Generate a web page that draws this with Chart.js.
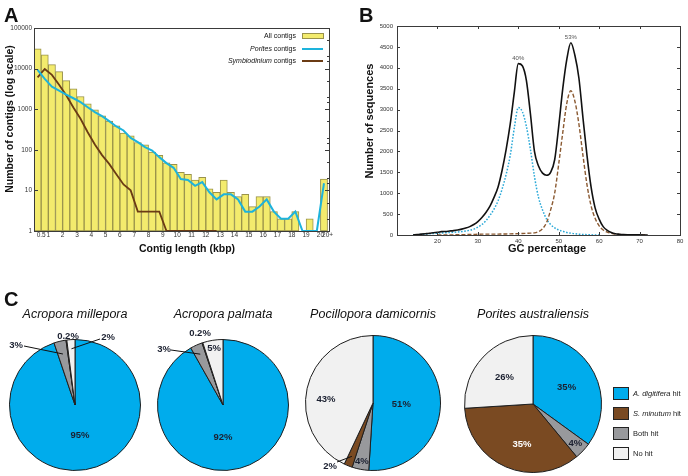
<!DOCTYPE html>
<html>
<head>
<meta charset="utf-8">
<title>Contig length, GC content and BLAST hits</title>
<script src="https://cdn.jsdelivr.net/npm/chart.js@4.4.1/dist/chart.umd.min.js"></script>
<style>
  html, body { margin: 0; padding: 0; background: #fff; }
  #fig { position: relative; width: 688px; height: 476px; overflow: hidden; background: #fff;
         font-family: "Liberation Sans", Arial, Helvetica, sans-serif; }
  #fig canvas { position: absolute; }
  .panel-letter { position: absolute; font-size: 20px; line-height: 20px; font-weight: bold; color: #111; }
</style>
</head>
<body>
<div id="fig">
  <canvas id="lengthChart" style="left:0;top:0;width:345px;height:270px" width="345" height="270"></canvas>
  <canvas id="gcChart" style="left:345px;top:0;width:343px;height:270px" width="343" height="270"></canvas>
  <canvas id="pie0" style="left:0;top:295px;width:150px;height:181px" width="150" height="181"></canvas>
  <canvas id="pie1" style="left:150px;top:295px;width:148px;height:181px" width="148" height="181"></canvas>
  <canvas id="pie2" style="left:298px;top:295px;width:152px;height:181px" width="152" height="181"></canvas>
  <canvas id="pie3" style="left:450px;top:295px;width:238px;height:181px" width="238" height="181"></canvas>
  <div class="panel-letter" style="left:4px;top:5px">A</div>
  <div class="panel-letter" style="left:359px;top:5px">B</div>
  <div class="panel-letter" style="left:4px;top:289px">C</div>
</div>
<script>
// Panel A: contig length histogram (0.5 kbp bins, last bin is 20+)
const binCenters = [0.25, 0.75, 1.25, 1.75, 2.25, 2.75, 3.25, 3.75, 4.25, 4.75,
    5.25, 5.75, 6.25, 6.75, 7.25, 7.75, 8.25, 8.75, 9.25, 9.75,
    10.25, 10.75, 11.25, 11.75, 12.25, 12.75, 13.25, 13.75, 14.25, 14.75,
    15.25, 15.75, 16.25, 16.75, 17.25, 17.75, 18.25, 18.75, 19.25, 19.75, 20.25];
const allContigs = [30500, 21700, 12500, 8400, 5070, 3160, 2050, 1350, 960, 690,
    510, 390, 257, 221, 151, 133, 88, 73, 48, 44,
    28, 25, 18, 21, 11, 9, 18, 9, 7, 8,
    4, 7, 7, 3, 2, 2, 3, 0, 2, 0, 19];
const poritesContigs = [9300, 5570, 3600, 2880, 2300, 1860, 1490, 1120, 845, 673,
    507, 375, 299, 197, 155, 116, 96, 66, 47, 36,
    19, 18, 13, 16, 9, 6, 8, 8, 6, 3,
    3, 4, 6, 3, 2, 2, 3, 0, 0, 0, 15];
const symbiodiniumContigs = [6100, 9800, 7000, 4000, 2200, 1100, 580, 270, 135, 74,
    45, 25, 14, 10, 3, 3, 3, 3, 0, 0,
    0, 0, 0, 0, 0, 0];
const lengthTickValues = [0.5, 1, 2, 3, 4, 5, 6, 7, 8, 9, 10, 11, 12, 13, 14, 15, 16, 17, 18, 19, 20, 20.5];
const lengthTickLabels = ['0.5', '1', '2', '3', '4', '5', '6', '7', '8', '9', '10',
    '11', '12', '13', '14', '15', '16', '17', '18', '19', '20', '20+'];
const countTickLabels = ['1', '10', '100', '1000', '10000', '100000'];

// Panel B: GC content distribution
const gcPercent = [14, 15, 16, 17, 18, 19, 20, 21, 22, 23, 24, 25, 26, 27, 28, 29,
    30, 31, 32, 33, 34, 35, 36, 37, 38, 39, 40, 41, 42, 43, 44, 45, 46, 47, 48, 49,
    50, 51, 52, 53, 54, 55, 56, 57, 58, 59, 60, 61, 62, 63, 64, 65, 66, 67, 68, 69,
    70, 71, 72];
const allContigsGC = [5, 10, 20, 30, 40, 55, 65, 80, 85, 95, 105, 120, 140, 165, 200, 250,
    320, 420, 540, 690, 900, 1150, 1550, 2050, 2650, 3400, 4100, 4050, 3700, 2900, 2000, 1650, 1480, 1430, 1500, 1800,
    2600, 3500, 4200, 4600, 4300, 3750, 2800, 1900, 1150, 650, 380, 200, 110, 60, 30, 18, 10, 6, 4, 3,
    2, 1, 0];
const symbiodiniumGC = [null, null, null, null, null, null, 2, 3, 3, 4, 4, 5, 8, 10, 12, 15,
    18, 20, 20, 22, 22, 22, 24, 25, 28, 30, 32, 35, 40, 45, 50, 80, 150, 300, 600, 1000,
    1700, 2450, 3150, 3450, 3200, 2650, 1900, 1200, 700, 400, 220, 120, 70, 40, 20, 12, 7, 4, 2, 1,
    0, 0, 0];
const poritesGC = [3, 6, 12, 20, 28, 36, 42, 50, 55, 60, 65, 72, 82, 95, 115, 140,
    190, 250, 340, 470, 620, 820, 1100, 1450, 1900, 2550, 3050, 2950, 2600, 2050, 1400, 900, 600, 380, 250, 170,
    120, 90, 60, 45, 30, 20, 12, 8, 4, 2, 0];
const gcTickValues = [20, 30, 40, 50, 60, 70, 80];
const gcTickLabels = ['20', '30', '40', '50', '60', '70', '80'];
const gcPeaks = [40, 53];

// Panel C: BLAST hits, values in legend order
const hitCategories = ['A. digitifera hit', 'S. minutum hit', 'Both hit', 'No hit'];
const pieTitles = ['Acropora millepora', 'Acropora palmata', 'Pocillopora damicornis', 'Porites australiensis'];
const acroporaMillepora = [95, 0.2, 3, 2];
const acroporaPalmata = [92, 0.2, 3, 5];
const pocilloporaDamicornis = [51, 2, 4, 43];
const poritesAustraliensis = [35, 35, 4, 26];

// ---- styles ----
const FONT = "'Liberation Sans', Arial, Helvetica, sans-serif";
Chart.defaults.font.family = FONT;
Chart.defaults.color = '#333';
const italicTerms = ['Porites', 'Symbiodinium', 'A. digitifera', 'S. minutum'];
const hitColors = ['#00acec', '#7a4a22', '#98999c', '#f1f1f1'];
const sliceOrder = [0, 2, 1, 3]; // clockwise from 12 o'clock

function splitItalic(label) {
    for (const term of italicTerms) {
        if (label.startsWith(term)) return [[term, true], [label.slice(term.length), false]];
    }
    return [[label, false]];
}

function drawRichText(ctx, label, x, y, size, align) {
    const parts = splitItalic(label);
    const fontOf = it => (it ? 'italic ' : '') + size + 'px ' + FONT;
    let total = 0;
    parts.forEach(([t, it]) => { ctx.font = fontOf(it); total += ctx.measureText(t).width; });
    let cx = align === 'right' ? x - total : x;
    ctx.textAlign = 'left';
    ctx.textBaseline = 'middle';
    parts.forEach(([t, it]) => {
        ctx.font = fontOf(it);
        ctx.fillText(t, cx, y);
        cx += ctx.measureText(t).width;
    });
}

// box around the plot area with inward tick marks
const frameTicks = {
    id: 'frameTicks',
    afterDatasetsDraw(chart, args, o) {
        const { ctx, chartArea: a, scales } = chart;
        const line = (x1, y1, x2, y2) => { ctx.beginPath(); ctx.moveTo(x1, y1); ctx.lineTo(x2, y2); ctx.stroke(); };
        ctx.save();
        ctx.strokeStyle = '#3a3a3a';
        ctx.lineWidth = 1;
        ctx.strokeRect(Math.round(a.left) + 0.5, Math.round(a.top) + 0.5, Math.round(a.width), Math.round(a.height));
        if (o.xTicks) {
            scales.x.ticks.forEach(t => {
                const px = Math.round(scales.x.getPixelForValue(t.value)) + 0.5;
                if (px < a.left + 2 || px > a.right - 2) return;
                line(px, a.top, px, a.top + o.len);
                line(px, a.bottom, px, a.bottom - o.len);
            });
        }
        scales.y.ticks.forEach(t => {
            const py = Math.round(scales.y.getPixelForValue(t.value)) + 0.5;
            if (py < a.top + 2 || py > a.bottom - 2) return;
            const l10 = Math.log10(t.value);
            const major = !o.log || Math.abs(l10 - Math.round(l10)) < 1e-9;
            if (major) {
                line(a.left, py, a.left + o.len, py);
                line(a.right, py, a.right - o.len, py);
            } else {
                // minor log ticks only on the right edge, at 2 and 5 of each decade
                const sig = Math.round(t.value / Math.pow(10, Math.floor(l10 + 1e-9)));
                if (sig === 2 || sig === 5) line(a.right, py, a.right - o.minorLen, py);
            }
        });
        ctx.restore();
    }
};

const axisTitles = {
    id: 'axisTitles',
    afterDraw(chart, args, o) {
        const ctx = chart.ctx;
        ctx.save();
        ctx.font = 'bold ' + o.size + 'px ' + FONT;
        ctx.fillStyle = '#111';
        ctx.textAlign = 'center';
        ctx.textBaseline = 'middle';
        ctx.fillText(o.x.text, o.x.at[0], o.x.at[1]);
        ctx.translate(o.y.at[0], o.y.at[1]);
        ctx.rotate(-Math.PI / 2);
        ctx.fillText(o.y.text, 0, 0);
        ctx.restore();
    }
};

// legend built from the datasets' own styles
const seriesLegend = {
    id: 'seriesLegend',
    afterDraw(chart, args, o) {
        const ctx = chart.ctx;
        chart.data.datasets.forEach((ds, i) => {
            const y = o.rowY[i];
            ctx.save();
            ctx.fillStyle = '#111';
            drawRichText(ctx, ds.label, o.textX, y, o.size, o.align);
            if (ds.type === 'bar') {
                ctx.fillStyle = ds.backgroundColor;
                ctx.strokeStyle = ds.borderColor;
                ctx.lineWidth = 1;
                ctx.fillRect(o.swatch[0], y - 2.5, o.swatch[1] - o.swatch[0], 5);
                ctx.strokeRect(o.swatch[0] + 0.5, y - 2.5, o.swatch[1] - o.swatch[0], 5);
            } else {
                ctx.strokeStyle = ds.borderColor;
                ctx.lineWidth = o.lineWidth;
                ctx.setLineDash(ds.borderDash || []);
                ctx.beginPath();
                ctx.moveTo(o.swatch[0], y);
                ctx.lineTo(o.swatch[1], y);
                ctx.stroke();
            }
            ctx.restore();
        });
    }
};

// ---- Panel A ----
const floorZero = v => (v > 0 ? v : 1); // zero counts sit on the bottom of the log axis

new Chart(document.getElementById('lengthChart'), {
    data: {
        datasets: [
            {
                type: 'bar',
                label: 'All contigs',
                data: binCenters.map((x, i) => ({ x, y: allContigs[i] > 0 ? allContigs[i] : null })),
                backgroundColor: '#f3eb6d',
                borderColor: '#99924a',
                borderWidth: 1,
                borderSkipped: false,
                barPercentage: 1,
                categoryPercentage: 1,
                order: 3
            },
            {
                type: 'line',
                label: 'Porites contigs',
                data: binCenters.map((x, i) => ({ x, y: floorZero(poritesContigs[i]) })),
                borderColor: '#1db3dc',
                borderWidth: 2,
                pointRadius: 0,
                tension: 0,
                order: 1
            },
            {
                type: 'line',
                label: 'Symbiodinium contigs',
                data: symbiodiniumContigs.map((v, i) => ({ x: binCenters[i], y: floorZero(v) })),
                borderColor: '#6b3b14',
                borderWidth: 1.8,
                pointRadius: 0,
                tension: 0,
                order: 2
            }
        ]
    },
    options: {
        responsive: false,
        animation: false,
        layout: { padding: { top: 28, right: 16, left: 0, bottom: 0 } },
        plugins: {
            legend: { display: false },
            tooltip: { enabled: false },
            frameTicks: { xTicks: false, log: true, len: 4, minorLen: 2 },
            axisTitles: {
                size: 10.5,
                x: { text: 'Contig length (kbp)', at: [187, 249] },
                y: { text: 'Number of contigs (log scale)', at: [10, 119] }
            },
            seriesLegend: { textX: 296, align: 'right', swatch: [302, 323], rowY: [36, 49, 61], size: 7, lineWidth: 2 }
        },
        scales: {
            x: {
                type: 'linear', min: 0, max: 20.6, offset: false,
                grid: { display: false, drawTicks: false },
                border: { display: false },
                afterBuildTicks: s => { s.ticks = lengthTickValues.map(value => ({ value })); },
                afterFit: s => { s.height = 39; },
                ticks: {
                    autoSkip: false, maxRotation: 0, minRotation: 0, padding: 0,
                    font: { size: 6.5 },
                    callback: (v, i) => lengthTickLabels[i]
                }
            },
            y: {
                type: 'logarithmic', min: 1, max: 100000,
                grid: { display: false, drawTicks: false },
                border: { display: false },
                afterFit: s => { s.width = 34; },
                ticks: {
                    autoSkip: false, padding: 2,
                    font: { size: 6.5 },
                    callback: v => {
                        const l = Math.log10(v);
                        return Math.abs(l - Math.round(l)) < 1e-9 ? countTickLabels[Math.round(l)] : '';
                    }
                }
            }
        }
    },
    plugins: [frameTicks, axisTitles, seriesLegend]
});

// ---- Panel B ----
const peakLabels = {
    id: 'peakLabels',
    afterDatasetsDraw(chart) {
        const { ctx, scales } = chart;
        ctx.save();
        ctx.font = '6px ' + FONT;
        ctx.fillStyle = '#555';
        ctx.textAlign = 'center';
        ctx.textBaseline = 'bottom';
        gcPeaks.forEach(gc => {
            const v = allContigsGC[gcPercent.indexOf(gc)];
            ctx.fillText(gc + '%', scales.x.getPixelForValue(gc), scales.y.getPixelForValue(v) - 2);
        });
        ctx.restore();
    }
};

const gcSeries = (values) => values.map((v, i) => ({ x: gcPercent[i], y: v }));

new Chart(document.getElementById('gcChart'), {
    type: 'line',
    data: {
        datasets: [
            {
                type: 'line', label: 'All contigs', data: gcSeries(allContigsGC),
                borderColor: '#111', borderWidth: 1.6, pointRadius: 0, cubicInterpolationMode: 'monotone'
            },
            {
                type: 'line', label: 'Symbiodinium contigs', data: gcSeries(symbiodiniumGC),
                borderColor: '#8b5a32', borderWidth: 1.4, borderDash: [4, 2], pointRadius: 0, cubicInterpolationMode: 'monotone'
            },
            {
                type: 'line', label: 'Porites contigs', data: gcSeries(poritesGC),
                borderColor: '#2aa9d8', borderWidth: 1.5, borderDash: [1.6, 1.6], pointRadius: 0, cubicInterpolationMode: 'monotone'
            }
        ]
    },
    options: {
        responsive: false,
        animation: false,
        layout: { padding: { top: 26, right: 8, left: 0, bottom: 0 } },
        plugins: {
            legend: { display: false },
            tooltip: { enabled: false },
            frameTicks: { xTicks: true, log: false, len: 3, minorLen: 3 },
            axisTitles: {
                size: 11,
                x: { text: 'GC percentage', at: [202, 249] },
                y: { text: 'Number of sequences', at: [25, 121] }
            },
            seriesLegend: { textX: 248, align: 'left', swatch: [307, 325], rowY: [39, 50, 61], size: 6.5, lineWidth: 1.6 }
        },
        scales: {
            x: {
                type: 'linear', min: 10, max: 80,
                grid: { display: false, drawTicks: false },
                border: { display: false },
                afterBuildTicks: s => { s.ticks = gcTickValues.map(value => ({ value })); },
                afterFit: s => { s.height = 35; },
                ticks: { autoSkip: false, maxRotation: 0, padding: 3, font: { size: 6 }, callback: (v, i) => gcTickLabels[i] }
            },
            y: {
                type: 'linear', min: 0, max: 5000,
                grid: { display: false, drawTicks: false },
                border: { display: false },
                afterFit: s => { s.width = 52; },
                ticks: { stepSize: 500, autoSkip: false, padding: 4, font: { size: 6 }, callback: v => String(v) }
            }
        }
    },
    plugins: [frameTicks, axisTitles, peakLabels]
});

// ---- Panel C ----
// label placement per category (legend order): f = fraction of radius along the slice middle,
// tx/ty = text offset from the centre, sx/sy + r = leader line from text to slice
const piePlacement = [
    [{ f: 0.47 }, { tx: -7, ty: -69 }, { tx: -59, ty: -60, sx: -51, sy: -59, r: 0.8 }, { tx: 33, ty: -68, sx: 25, sy: -66, r: 0.86 }],
    [{ tx: 0, ty: 32 }, { tx: -23, ty: -72 }, { tx: -59, ty: -56, sx: -52, sy: -55, r: 0.85 }, { f: 0.87 }],
    [{ f: 0.42 }, { tx: -43, ty: 63, sx: -36, sy: 59, r: 0.85 }, { f: 0.88 }, { tx: -47, ty: -4 }],
    [{ f: 0.55 }, { tx: -11, ty: 40, color: '#fff' }, { f: 0.85 }, { f: 0.57 }]
];
const pieBoxes = [
    { left: 9, right: 9, gap: 16.5, bottom: 5 },
    { left: 7, right: 9, gap: 16.5, bottom: 5 },
    { left: 7, right: 9, gap: 12.5, bottom: 5 },
    { left: 14, right: 86, gap: 12.5, bottom: 3 }
];
const pieValues = [acroporaMillepora, acroporaPalmata, pocilloporaDamicornis, poritesAustraliensis];

const sliceLabels = {
    id: 'sliceLabels',
    afterDatasetsDraw(chart, args, o) {
        const ctx = chart.ctx;
        const arcs = chart.getDatasetMeta(0).data;
        ctx.save();
        ctx.font = 'bold 9.5px ' + FONT;
        ctx.textAlign = 'center';
        ctx.textBaseline = 'middle';
        ctx.strokeStyle = '#111';
        ctx.lineWidth = 1;
        sliceOrder.forEach((cat, i) => {
            const p = o.places[cat];
            const arc = arcs[i];
            const mid = (arc.startAngle + arc.endAngle) / 2;
            const R = arc.outerRadius;
            let tx, ty;
            if (p.f !== undefined) {
                tx = arc.x + Math.cos(mid) * R * p.f;
                ty = arc.y + Math.sin(mid) * R * p.f;
            } else {
                tx = arc.x + p.tx;
                ty = arc.y + p.ty;
            }
            if (p.sx !== undefined) {
                ctx.beginPath();
                ctx.moveTo(arc.x + p.sx, arc.y + p.sy);
                ctx.lineTo(arc.x + Math.cos(mid) * R * p.r, arc.y + Math.sin(mid) * R * p.r);
                ctx.stroke();
            }
            ctx.fillStyle = p.color || '#1b2030';
            ctx.fillText(o.values[cat] + '%', tx, ty);
        });
        ctx.restore();
    }
};

const hitLegend = {
    id: 'hitLegend',
    afterDraw(chart) {
        const ctx = chart.ctx;
        hitCategories.forEach((name, i) => {
            const top = 92 + i * 20;
            ctx.save();
            ctx.fillStyle = hitColors[i];
            ctx.fillRect(163, top, 15, 12);
            ctx.strokeStyle = '#222';
            ctx.lineWidth = 1;
            ctx.strokeRect(163.5, top + 0.5, 15, 12);
            ctx.fillStyle = '#222';
            drawRichText(ctx, name, 183, top + 6.5, 7.5, 'left');
            ctx.restore();
        });
    }
};

pieValues.forEach((values, k) => {
    const box = pieBoxes[k];
    new Chart(document.getElementById('pie' + k), {
        type: 'pie',
        data: {
            labels: sliceOrder.map(c => hitCategories[c]),
            datasets: [{
                data: sliceOrder.map(c => values[c]),
                backgroundColor: sliceOrder.map(c => hitColors[c]),
                borderColor: '#1e1e1e',
                borderWidth: 1
            }]
        },
        options: {
            responsive: false,
            animation: false,
            layout: { padding: { left: box.left, right: box.right, top: 0, bottom: box.bottom } },
            plugins: {
                legend: { display: false },
                tooltip: { enabled: false },
                title: {
                    display: true,
                    text: pieTitles[k],
                    color: '#111',
                    font: { size: 12.5, style: 'italic', weight: 'normal' },
                    padding: { top: 12.5, bottom: box.gap }
                },
                sliceLabels: { places: piePlacement[k], values }
            }
        },
        plugins: k === 3 ? [sliceLabels, hitLegend] : [sliceLabels]
    });
});
</script>
</body>
</html>
